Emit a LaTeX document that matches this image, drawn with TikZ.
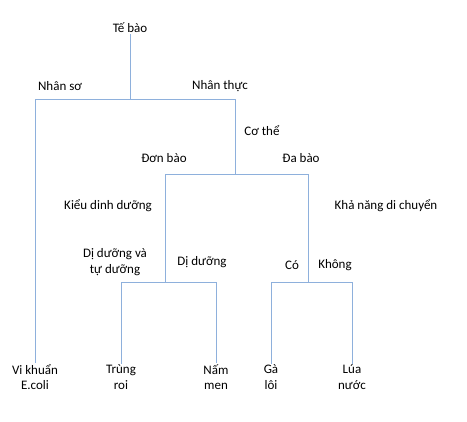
\documentclass[tikz,border=0pt]{standalone}
\usepackage{fontspec}
\setmainfont{Carlito}
\usetikzlibrary{positioning}
\definecolor{treeblue}{HTML}{8EB0DC}
\begin{document}
\begin{tikzpicture}[x=1pt, y=-1pt,
    lbl/.style = {font=\fontsize{13}{15.5}\selectfont, align=center, inner sep=1pt},
    edge/.style = {draw=treeblue, line width=1pt},
  ]
  \useasboundingbox (0,0) rectangle (467,422);

  % Nodes
  \node[lbl] (root) at (130,28) {Tế bào};
  \node[lbl] (ecoli) at (35,377) {Vi khuẩn\\E.coli};
  \node[lbl] (trung) at (121,377) {Trùng\\roi};
  \node[lbl] (nam)   at (216,377) {Nấm\\men};
  \node[lbl] (ga)    at (271,377) {Gà\\lôi};
  \node[lbl] (lua)   at (352,377) {Lúa\\nước};

  % Junctions
  \coordinate (j1) at (130,100);
  \coordinate (j2) at (235,175);
  \coordinate (j3) at (165,283);
  \coordinate (j4) at (308,283);

  % Tree
  \draw[edge] (root.south) -- (j1);
  \draw[edge] (j1) -| (ecoli.north);
  \draw[edge] (j1) -| (j2);
  \draw[edge] (j2) -| (j3);
  \draw[edge] (j2) -| (j4);
  \draw[edge] (j3) -| (trung.north);
  \draw[edge] (j3) -| (nam.north);
  \draw[edge] (j4) -| (ga.north);
  \draw[edge] (j4) -| (lua.north);

  % Branch labels
  \node[lbl] at (60,86) {Nhân sơ};
  \node[lbl] at (220,86) {Nhân thực};
  \node[lbl] at (262,131) {Cơ thể};
  \node[lbl] at (164,158) {Đơn bào};
  \node[lbl] at (301,158) {Đa bào};
  \node[lbl] at (108,206) {Kiểu dinh dưỡng};
  \node[lbl] at (386,206) {Khả năng di chuyển};
  \node[lbl] at (115,262) {Dị dưỡng và\\tự dưỡng};
  \node[lbl] at (202,262) {Dị dưỡng};
  \node[lbl] at (292,265) {Có};
  \node[lbl] at (335,265) {Không};
\end{tikzpicture}
\end{document}
